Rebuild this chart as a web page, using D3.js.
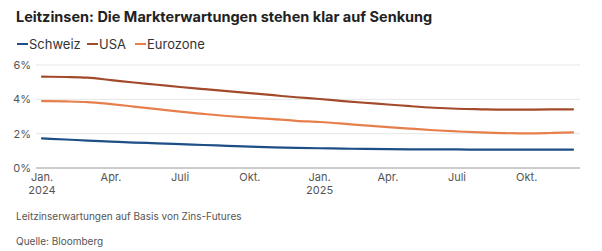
<!DOCTYPE html>
<html>
<head>
<meta charset="utf-8">
<script src="https://cdn.jsdelivr.net/npm/d3@7"></script>
<style>
  html, body { margin: 0; padding: 0; background: #fff; }
  body { width: 602px; height: 251px; overflow: hidden; font-family: Inter, "Noto Sans", sans-serif; }
</style>
</head>
<body>
<svg id="chart" width="602" height="251"></svg>
<script>
  'use strict';

  // monthly points, Jan 2024 .. Dec 2025
  const months = d3.range(24).map(i => new Date(2024, i, 1));
  const schweiz = [1.72, 1.66, 1.60, 1.54, 1.48, 1.44, 1.39, 1.34, 1.29, 1.24, 1.20, 1.17,
                   1.15, 1.13, 1.11, 1.10, 1.09, 1.08, 1.08, 1.07, 1.07, 1.07, 1.07, 1.07];
  const usa = [5.32, 5.30, 5.26, 5.12, 4.98, 4.85, 4.72, 4.60, 4.48, 4.36, 4.24, 4.12,
               4.02, 3.90, 3.80, 3.70, 3.60, 3.51, 3.45, 3.42, 3.40, 3.40, 3.41, 3.42];
  const eurozone = [3.90, 3.88, 3.84, 3.72, 3.58, 3.43, 3.28, 3.15, 3.03, 2.93, 2.85, 2.75,
                    2.68, 2.58, 2.48, 2.38, 2.29, 2.20, 2.13, 2.07, 2.03, 2.02, 2.04, 2.07];
  const yTicks = [0, 2, 4, 6];
  const xTickDates = [new Date(2024, 0, 1), new Date(2024, 3, 1), new Date(2024, 6, 1), new Date(2024, 9, 1),
                      new Date(2025, 0, 1), new Date(2025, 3, 1), new Date(2025, 6, 1), new Date(2025, 9, 1)];
  const xTickLabels = ['Jan.', 'Apr.', 'Juli', 'Okt.', 'Jan.', 'Apr.', 'Juli', 'Okt.'];
  const yearLabels = [{ date: new Date(2024, 0, 1), text: '2024' }, { date: new Date(2025, 0, 1), text: '2025' }];

  const series = [
    { name: 'Schweiz', values: schweiz, color: '#1d4f86' },
    { name: 'USA', values: usa, color: '#a34a2b' },
    { name: 'Eurozone', values: eurozone, color: '#e77f4c' }
  ];

  const svg = d3.select('#chart');

  svg.append('text')
    .attr('x', 16).attr('y', 22)
    .attr('font-size', 14.5).attr('font-weight', 700).attr('fill', '#222')
    .text('Leitzinsen: Die Markterwartungen stehen klar auf Senkung');

  // legend
  const legend = svg.append('g').attr('transform', 'translate(17,44)');
  const legendX = [0, 70, 118];
  series.forEach((s, i) => {
    const g = legend.append('g').attr('transform', `translate(${legendX[i]},0)`);
    g.append('line').attr('x1', 0).attr('x2', 11).attr('y1', 0).attr('y2', 0)
      .attr('stroke', s.color).attr('stroke-width', 2);
    g.append('text').attr('x', 12).attr('y', 4.5)
      .attr('font-size', 13).attr('fill', '#333').text(s.name);
  });

  const x = d3.scaleTime()
    .domain([months[0], months[months.length - 1]])
    .range([42, 573]);
  const y = d3.scaleLinear().domain([0, 6]).range([168, 65]);

  // grid
  svg.append('g').selectAll('line')
    .data(yTicks.filter(d => d !== 0))
    .join('line')
    .attr('x1', 36).attr('x2', 580)
    .attr('y1', d => y(d)).attr('y2', d => y(d))
    .attr('stroke', '#e6e6e6').attr('stroke-width', 1);

  svg.append('g').selectAll('text')
    .data(yTicks)
    .join('text')
    .attr('x', 31).attr('y', d => y(d) + 4)
    .attr('text-anchor', 'end')
    .attr('font-size', 11).attr('fill', '#555')
    .text(d => d + '%');

  // x axis
  svg.append('line')
    .attr('x1', 36).attr('x2', 580)
    .attr('y1', y(0)).attr('y2', y(0))
    .attr('stroke', '#9a9a9a').attr('stroke-width', 1);

  svg.append('g').selectAll('text')
    .data(xTickDates)
    .join('text')
    .attr('x', d => x(d)).attr('y', 181)
    .attr('text-anchor', 'middle')
    .attr('font-size', 11).attr('fill', '#555')
    .text((d, i) => xTickLabels[i]);

  svg.append('g').selectAll('text')
    .data(yearLabels)
    .join('text')
    .attr('x', d => x(d.date)).attr('y', 194)
    .attr('text-anchor', 'middle')
    .attr('font-size', 11).attr('fill', '#555')
    .text(d => d.text);

  // lines
  const line = d3.line()
    .x((d, i) => x(months[i]))
    .y(d => y(d))
    .curve(d3.curveMonotoneX);

  svg.append('g').selectAll('path')
    .data(series)
    .join('path')
    .attr('d', d => line(d.values))
    .attr('fill', 'none')
    .attr('stroke', d => d.color)
    .attr('stroke-width', 2.2)
    .attr('stroke-linecap', 'round');

  // footer
  svg.append('text')
    .attr('x', 16).attr('y', 220)
    .attr('font-size', 10).attr('fill', '#555')
    .text('Leitzinserwartungen auf Basis von Zins-Futures');
  svg.append('text')
    .attr('x', 16).attr('y', 245)
    .attr('font-size', 10).attr('fill', '#555')
    .text('Quelle: Bloomberg');
</script>
</body>
</html>
